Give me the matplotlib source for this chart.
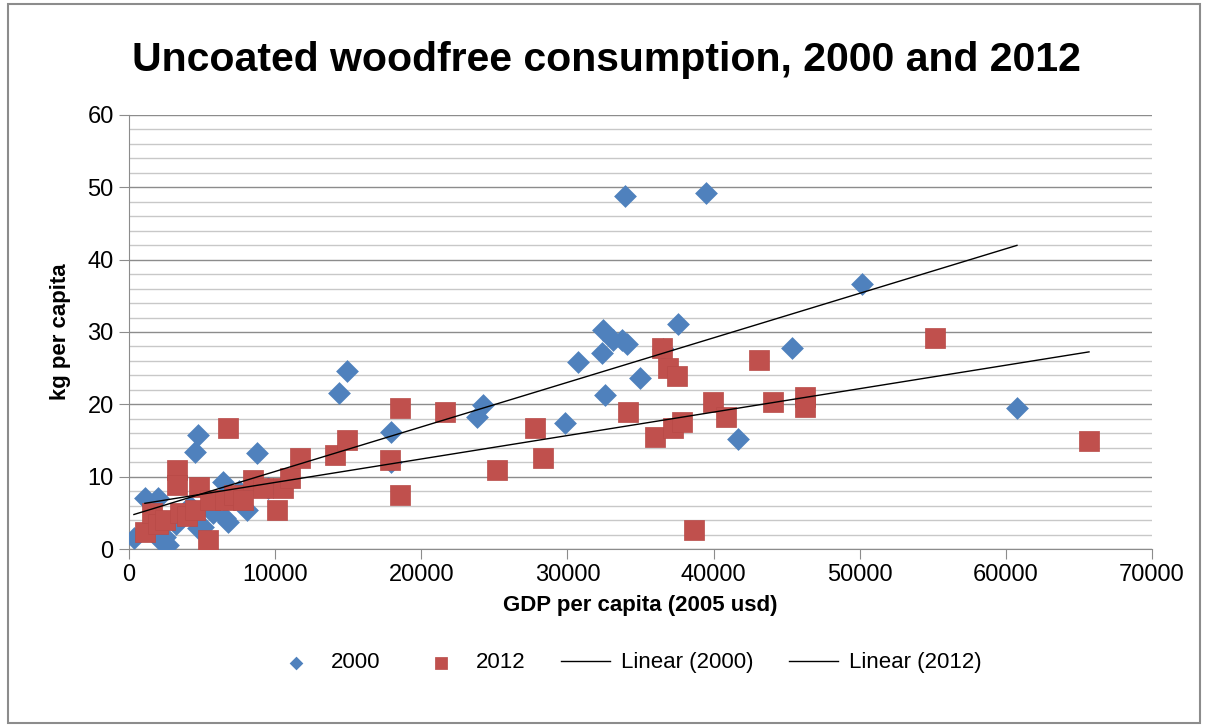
import numpy as np
import matplotlib.pyplot as plt
from matplotlib.patches import Rectangle
from matplotlib.ticker import MultipleLocator

plt.rcParams['font.family'] = ['Liberation Sans', 'DejaVu Sans']

# 2000 data (GDP per capita, kg per capita)
gdp_2000 = [340, 1090, 1980, 2120, 2460, 2670, 3200, 3700, 4520, 4720, 4720, 4200,
            5060, 5740, 6430, 6570, 6770, 7500, 8070, 8760, 9500, 14370, 14920,
            17930, 17930, 23810, 24220, 29830, 30720, 32360, 32430, 32570, 33110,
            33720, 34060, 33940, 34970, 36540, 37570, 39480, 41670, 45370, 50150, 60760]
kg_2000 = [1.5, 7.0, 7.0, 1.2, 1.7, 0.6, 3.5, 4.5, 13.4, 15.8, 2.9, 6.0,
           3.0, 5.0, 9.3, 4.3, 3.7, 8.0, 5.4, 13.3, 8.5, 21.6, 24.6,
           16.2, 12.0, 18.3, 19.9, 17.4, 25.9, 27.1, 30.3, 21.3, 28.9,
           28.9, 28.3, 48.8, 23.6, 27.6, 31.1, 49.2, 15.2, 27.8, 36.6, 19.5]

# 2012 data
gdp_2012 = [1090, 1570, 2000, 2500, 3280, 3280, 3490, 4000, 4520, 4790, 5400, 5540,
            6570, 6770, 7200, 7800, 8490, 9200, 10130, 10540, 11020, 11700, 14100,
            14920, 17860, 18540, 18540, 21620, 25180, 27780, 28330, 34150, 35990,
            36470, 36880, 37220, 37500, 37840, 38640, 39960, 40850, 43110, 44060,
            46250, 46250, 55140, 65690]
kg_2012 = [2.4, 5.0, 3.5, 4.0, 10.9, 8.8, 5.0, 4.5, 5.4, 8.6, 1.2, 6.8,
           6.8, 16.7, 7.5, 6.8, 9.5, 8.5, 5.4, 8.4, 9.8, 12.6, 13.0,
           15.1, 12.3, 19.5, 7.5, 18.9, 10.9, 16.7, 12.6, 18.9, 15.5,
           27.8, 25.0, 16.7, 23.9, 17.6, 2.6, 20.3, 18.3, 26.1, 20.3,
           21.0, 19.6, 29.2, 14.9]

blue = '#4F81BD'
red = '#C0504D'

fig = plt.figure(figsize=(12.12, 7.26), dpi=100)
ax = fig.add_axes([0.1064, 0.2438, 0.8441, 0.5978])

fig.patches.append(Rectangle((0.007, 0.004), 0.983, 0.99, transform=fig.transFigure,
                             fill=False, edgecolor='#8c8c8c', linewidth=1.5))

ax.scatter(gdp_2000, kg_2000, marker='D', s=15**2 * 0.6, color=blue, linewidths=0,
           label='2000', zorder=3)
ax.scatter(gdp_2012, kg_2012, marker='s', s=15**2, color=red, linewidths=0.5,
           edgecolors='#b84a47', label='2012', zorder=3)

# linear trend lines
for gx, gy, lab in [(gdp_2000, kg_2000, 'Linear (2000)'), (gdp_2012, kg_2012, 'Linear (2012)')]:
    k, b = np.polyfit(gx, gy, 1)
    xs = np.array([min(gx), max(gx)])
    ax.plot(xs, k * xs + b, color='black', linewidth=1, label=lab, zorder=4)

ax.set_xlim(0, 70000)
ax.set_ylim(0, 60)
ax.xaxis.set_major_locator(MultipleLocator(10000))
ax.yaxis.set_major_locator(MultipleLocator(10))
ax.yaxis.set_minor_locator(MultipleLocator(2))
ax.grid(axis='y', which='major', color='#8c8c8c', linewidth=1)
ax.grid(axis='y', which='minor', color='#c8c8c8', linewidth=1)
ax.set_axisbelow(True)
for s in ['top', 'right']:
    ax.spines[s].set_visible(False)
ax.spines['left'].set_color('#8c8c8c')
ax.spines['bottom'].set_color('#8c8c8c')
ax.tick_params(axis='both', which='major', direction='out', length=7, color='#8c8c8c',
               labelsize=17, pad=4)
ax.tick_params(axis='y', which='minor', left=False)

ax.set_xlabel('GDP per capita (2005 usd)', fontsize=16, fontweight='bold', labelpad=6)
ax.set_ylabel('kg per capita', fontsize=16, fontweight='bold', labelpad=12)
fig.suptitle('Uncoated woodfree consumption, 2000 and 2012', fontsize=29.5,
             fontweight='bold', y=0.917, va='center')

fig.legend(loc='center', bbox_to_anchor=(0.517, 0.087), ncol=4, frameon=False,
           fontsize=16, handlelength=2.2, handletextpad=0.5, columnspacing=1.6,
           markerscale=0.6)

fig.savefig('out.png', dpi=100)
